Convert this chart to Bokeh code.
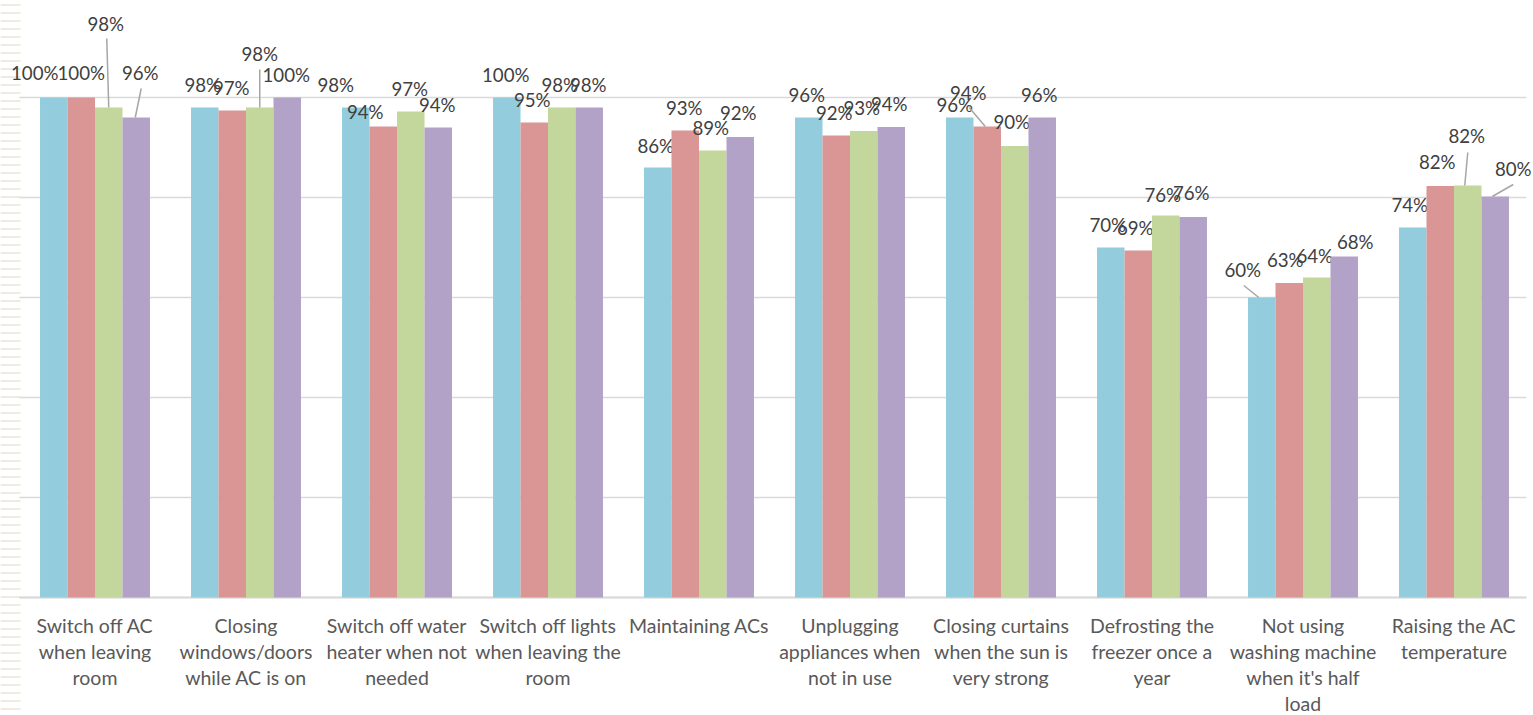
from bokeh.plotting import figure
from bokeh.models import ColumnDataSource, Range1d
from bokeh.embed import file_html
from bokeh.resources import INLINE
from bokeh.core.properties import value

# ---------------- data ----------------
categories = [
    "Switch off AC when leaving room",
    "Closing windows/doors while AC is on",
    "Switch off water heater when not needed",
    "Switch off lights when leaving the room",
    "Maintaining ACs",
    "Unplugging appliances when not in use",
    "Closing curtains when the sun is very strong",
    "Defrosting the freezer once a year",
    "Not using washing machine when it's half load",
    "Raising the AC temperature",
]
category_lines = [
    ["Switch off AC", "when leaving", "room"],
    ["Closing", "windows/doors", "while AC is on"],
    ["Switch off water", "heater when not", "needed"],
    ["Switch off lights", "when leaving the", "room"],
    ["Maintaining ACs"],
    ["Unplugging", "appliances when", "not in use"],
    ["Closing curtains", "when the sun is", "very strong"],
    ["Defrosting the", "freezer once a", "year"],
    ["Not using", "washing machine", "when it's half", "load"],
    ["Raising the AC", "temperature"],
]
series_names = ["Series 1", "Series 2", "Series 3", "Series 4"]
s1 = [100, 98, 98, 100, 86, 96, 96, 70, 60, 74]
s2 = [100, 97.4, 94.2, 95, 93.4, 92.4, 94.2, 69.4, 62.9, 82.3]
s3 = [98, 98, 97.2, 98, 89.4, 93.3, 90.3, 76.4, 64, 82.4]
s4 = [96, 100, 94, 98, 92.1, 94.1, 96, 76.1, 68.2, 80.2]
series_values = [s1, s2, s3, s4]
grid_ticks = [0, 20, 40, 60, 80, 100]

# ---------------- style / label placement ----------------
colors = ["#93CDDD", "#D99694", "#C3D69B", "#B3A2C7"]
bar_offsets = [-0.2731, -0.0911, 0.0911, 0.2731]
bar_width = 0.1821

# label offsets in screen pixels (dx, dy) relative to the top centre of each bar
label_dx = [
    [-19, -2, -20, -1, -2, -2, -5, -3, -19, -3],
    [0, -1, -18, -2, -1, -2, -19, -3, -4, -3],
    [-3, 0, -1, -2, -2, -2, -3, -3, -2, -1],
    [4, -1, -1, -1, -2, -2, -3, -2, 11, 18],
]
label_dy = [
    [-25, -23, -23, -23, -22, -23, -13, -23, -28, -23],
    [-25, -23, -15, -23, -23, -23, -34, -23, -23, -24],
    [-84, -54, -23, -23, -23, -23, -24, -21, -22, -50],
    [-45, -23, -23, -23, -24, -23, -23, -24, -15, -28],
]
# leader lines: (series, category index, start dx, start dy, end dx, end dy) in px
leaders = [
    (2, 0, -2, -69, 0, 0),
    (3, 0, 5, -29, -1, 0),
    (2, 1, 0, -38, 0, 0),
    (1, 6, -18, -19, -2, 0),
    (0, 8, -18, -12, -3, 0),
    (2, 9, 0, -33, -3, 0),
    (3, 9, 18, -12, -3, 0),
]

W, H = 1533, 715
n = len(categories)
CAT_PX = 151.0          # pixel width of one category slot
LEFT_PX, RIGHT_PX = 19, 4
X_START = -LEFT_PX / CAT_PX
X_END = n + RIGHT_PX / CAT_PX
PCT_PX = 5.0            # pixels per percentage point
AXIS_PX = 597           # pixel row of the 0 % line
Y_TOP = AXIS_PX / PCT_PX
Y_BOT = -(H - AXIS_PX) / PCT_PX

p = figure(
    x_range=Range1d(X_START, X_END),
    y_range=Range1d(Y_BOT, Y_TOP),
    width=W, height=H,
    output_backend="svg", toolbar_location=None,
    min_border_left=0, min_border_right=0, min_border_top=0, min_border_bottom=0,
)
p.outline_line_color = None
p.background_fill_color = "white"
p.border_fill_color = "white"
p.xaxis.visible = False
p.yaxis.visible = False
p.xgrid.grid_line_color = None
p.ygrid.grid_line_color = None

centers = [i + 0.5 for i in range(n)]

# slide texture strip at the left edge
p.quad(left=[X_START], right=[X_START + 20 / CAT_PX], bottom=[Y_BOT], top=[Y_TOP],
       fill_color=None, line_color=None,
       hatch_pattern="horizontal_line", hatch_color="#E8E4D6", hatch_weight=1.5, hatch_scale=8)

# horizontal gridlines and category axis line
p.segment(x0=[0] * len(grid_ticks), x1=[n - 0.02] * len(grid_ticks), y0=grid_ticks, y1=grid_ticks,
          line_color="#D9D9D9", line_width=1.5)
p.segment(x0=[0], x1=[n - 0.02], y0=[0], y1=[0], line_color="#D9D9D9", line_width=2)

for k in range(4):
    vals = series_values[k]
    src = ColumnDataSource(dict(
        x=[c + bar_offsets[k] for c in centers],
        val=vals,
        lbl=[f"{round(v)}%" for v in vals],
        dx=label_dx[k],
        dy=label_dy[k],
    ))
    p.vbar(x="x", top="val", bottom=0, width=bar_width,
           source=src, fill_color=colors[k], line_color=None)
    p.text(x="x", y="val", text="lbl",
           x_offset="dx", y_offset="dy", source=src,
           text_align="center", text_baseline="middle",
           text_font=value("Lato"), text_font_size="18.7px", text_color="#404040")

# leader lines
x0s, y0s, x1s, y1s = [], [], [], []
for (k, i, sdx, sdy, edx, edy) in leaders:
    bx = centers[i] + bar_offsets[k]
    by = series_values[k][i]
    x0s.append(bx + sdx / CAT_PX)
    y0s.append(by - sdy / PCT_PX)
    x1s.append(bx + edx / CAT_PX)
    y1s.append(by - edy / PCT_PX)
p.segment(x0=x0s, y0=y0s, x1=x1s, y1=y1s, line_color="#A6A6A6", line_width=1.5)

# category labels (wrapped like the original), drawn below the axis line
lx, ly, lt, lo = [], [], [], []
for c, lines in zip(centers, category_lines):
    for j, t in enumerate(lines):
        lx.append(c)
        ly.append(0)
        lt.append(t)
        lo.append(28 + 26 * j)
p.text(x=lx, y=ly, text=lt, y_offset=lo,
       text_align="center", text_baseline="middle",
       text_font=value("Lato"), text_font_size="19.5px", text_color="#595959")

open("out.html", "w").write(file_html(p, INLINE))
